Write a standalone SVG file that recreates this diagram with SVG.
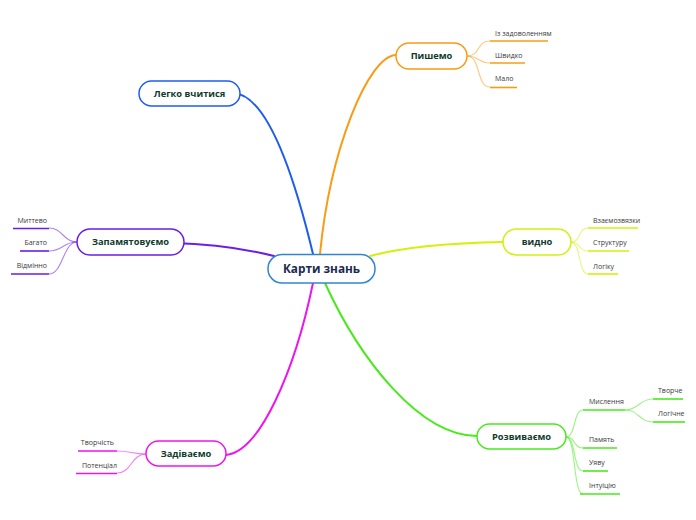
<svg xmlns="http://www.w3.org/2000/svg" width="696" height="520" viewBox="0 0 696 520">
<style>
.node rect{fill:#fff;stroke-width:1.5}
.nt{font-family:"Open Sans","Noto Sans",sans-serif;font-weight:bold;font-size:9.3px;fill:#0e3b2c;text-anchor:middle}
.ct{font-family:"Open Sans","Noto Sans",sans-serif;font-weight:bold;font-size:11.8px;fill:#1b2a4e;text-anchor:middle}
.lt{font-family:"Open Sans","Noto Sans",sans-serif;font-size:7px;fill:#3a3a3a}
.main{fill:none;stroke-width:2;stroke-linecap:round}
.sub{fill:none;stroke-width:1.1;opacity:0.55}
.ul{stroke-width:1.6}
</style>
<rect width="696" height="520" fill="#fff"/>
<g id="connectors">
<path class="main" stroke="#1e5cf0" d="M233,93 C272,94 300,200 313,254"/>
<path class="main" stroke="#f89c14" d="M396,55 C368,56 330,150 320,254"/>
<path class="main" stroke="#6a1ee8" d="M173,243 C215,244 250,250 274,256"/>
<path class="main" stroke="#d4f00c" d="M503,242 C450,243 400,248 370,256"/>
<path class="main" stroke="#ee14ee" d="M313,283 C295,370 260,452 226,455"/>
<path class="main" stroke="#48ea1c" d="M325,283 C360,360 420,436 477,436"/>
<g stroke="#f89c14">
<path class="sub" d="M467,56 C481,56 476,41 490,41"/>
<path class="sub" d="M467,56 C479,56 478,63 490,63"/>
<path class="sub" d="M467,56 C481,56 476,87 490,87"/>
</g>
<g stroke="#6a1ee8">
<path class="sub" d="M77,242 C63,242 63,228 49,228"/>
<path class="sub" d="M77,242 C63,242 63,251 49,251"/>
<path class="sub" d="M77,242 C63,242 63,274 49,274"/>
</g>
<g stroke="#d4f00c">
<path class="sub" d="M571,242 C581,242 578,228 588,228"/>
<path class="sub" d="M571,242 C581,242 578,251 588,251"/>
<path class="sub" d="M571,242 C581,242 578,274 588,274"/>
</g>
<g stroke="#ee14ee">
<path class="sub" d="M146,454 C131,454 132,451 117,451"/>
<path class="sub" d="M146,454 C131,454 132,473 117,473"/>
</g>
<g stroke="#48ea1c">
<path class="sub" d="M566,437 C576,437 573,410 583,410"/>
<path class="sub" d="M566,437 C576,437 573,448 583,448"/>
<path class="sub" d="M566,437 C576,437 573,471 583,471"/>
<path class="sub" d="M566,437 C576,437 573,494 583,494"/>
<path class="sub" d="M625,410 C639,410 639,399 653,399"/>
<path class="sub" d="M625,410 C639,410 639,422 653,422"/>
</g>
</g>
<g id="center" class="node">
<rect x="268" y="254.5" width="107" height="28.5" rx="14" stroke="#2f86d0"/>
<text class="ct" x="321.5" y="273">Карти знань</text>
</g>
<g id="n-pyshemo" class="node">
<rect x="396" y="43" width="71" height="26" rx="13" stroke="#f89c14"/>
<text class="nt" x="431.5" y="59.3">Пишемо</text>
</g>
<g id="n-pyshemo-children">
<line class="ul" x1="490" y1="41" x2="548" y2="41" stroke="#f89c14"/>
<text class="lt" x="495" y="36">Із задоволенням</text>
<line class="ul" x1="490" y1="63" x2="525" y2="63" stroke="#f89c14"/>
<text class="lt" x="495" y="58">Швидко</text>
<line class="ul" x1="490" y1="87.5" x2="517" y2="87.5" stroke="#f89c14"/>
<text class="lt" x="495" y="81">Мало</text>
</g>
<g id="n-lehko" class="node">
<rect x="139" y="81" width="101" height="25" rx="12.5" stroke="#1e5cf0"/>
<text class="nt" x="189.5" y="96.8">Легко вчитися</text>
</g>
<g id="n-zapam" class="node">
<rect x="77" y="229" width="107" height="26" rx="13" stroke="#6a1ee8"/>
<text class="nt" x="130.5" y="245.3">Запамятовуємо</text>
</g>
<g id="n-zapam-children">
<line class="ul" x1="13" y1="228.5" x2="49" y2="228.5" stroke="#6a1ee8"/>
<text class="lt" x="47" y="222.5" text-anchor="end">Миттево</text>
<line class="ul" x1="20" y1="251" x2="49" y2="251" stroke="#6a1ee8"/>
<text class="lt" x="47" y="245" text-anchor="end">Багато</text>
<line class="ul" x1="11" y1="274" x2="49" y2="274" stroke="#6a1ee8"/>
<text class="lt" x="47" y="268" text-anchor="end">Відмінно</text>
</g>
<g id="n-vydno" class="node">
<rect x="503" y="229" width="68" height="26" rx="13" stroke="#d4f00c"/>
<text class="nt" x="537" y="245.3">видно</text>
</g>
<g id="n-vydno-children">
<line class="ul" x1="588" y1="228" x2="638" y2="228" stroke="#d4f00c"/>
<text class="lt" x="593" y="222.5">Взаємозвязки</text>
<line class="ul" x1="588" y1="251" x2="629" y2="251" stroke="#d4f00c"/>
<text class="lt" x="593" y="245">Структуру</text>
<line class="ul" x1="588" y1="274" x2="618" y2="274" stroke="#d4f00c"/>
<text class="lt" x="593" y="268.5">Логіку</text>
</g>
<g id="n-zadiv" class="node">
<rect x="146" y="441" width="80" height="25" rx="12.5" stroke="#ee14ee"/>
<text class="nt" x="186" y="456.5">Задіваємо</text>
</g>
<g id="n-zadiv-children">
<line class="ul" x1="78" y1="451" x2="117" y2="451" stroke="#ee14ee"/>
<text class="lt" x="114" y="445" text-anchor="end">Творчість</text>
<line class="ul" x1="76" y1="473.5" x2="117" y2="473.5" stroke="#ee14ee"/>
<text class="lt" x="117" y="467.5" text-anchor="end">Потенціал</text>
</g>
<g id="n-rozv" class="node">
<rect x="477" y="424" width="89" height="25" rx="12.5" stroke="#48ea1c"/>
<text class="nt" x="521.5" y="439.8">Розвиваємо</text>
</g>
<g id="n-rozv-children">
<line class="ul" x1="583" y1="410" x2="625" y2="410" stroke="#48ea1c"/>
<text class="lt" x="589" y="403.5">Мислення</text>
<line class="ul" x1="653" y1="399" x2="683" y2="399" stroke="#48ea1c"/>
<text class="lt" x="658" y="393">Творче</text>
<line class="ul" x1="653" y1="422" x2="685" y2="422" stroke="#48ea1c"/>
<text class="lt" x="658" y="416">Логічне</text>
<line class="ul" x1="583" y1="448" x2="617" y2="448" stroke="#48ea1c"/>
<text class="lt" x="589" y="441.5">Память</text>
<line class="ul" x1="583" y1="471" x2="608" y2="471" stroke="#48ea1c"/>
<text class="lt" x="589" y="465">Уяву</text>
<line class="ul" x1="580" y1="494" x2="620" y2="494" stroke="#48ea1c"/>
<text class="lt" x="589" y="488">Інтуіцію</text>
</g>
</svg>
